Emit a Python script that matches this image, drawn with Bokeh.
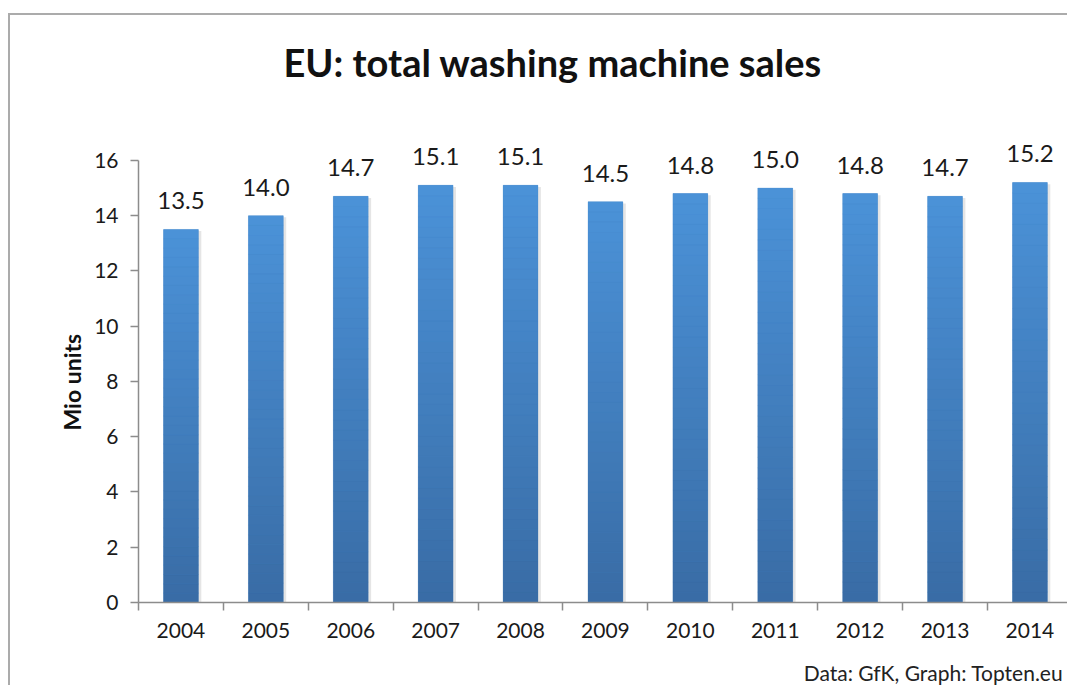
from bokeh.plotting import figure
from bokeh.models import ColumnDataSource, Range1d, FixedTicker, LabelSet, Title, LinearAxis
from bokeh.embed import file_html
from bokeh.resources import INLINE
from bokeh.core.properties import value

# ---- data ----
years = ["2004", "2005", "2006", "2007", "2008", "2009", "2010", "2011", "2012", "2013", "2014"]
sales = [13.5, 14.0, 14.7, 15.1, 15.1, 14.5, 14.8, 15.0, 14.8, 14.7, 15.2]
y_ticks = [0, 2, 4, 6, 8, 10, 12, 14, 16]
title_text = "EU: total washing machine sales"
y_label_text = "Mio units"
note_text = "Data: GfK, Graph: Topten.eu"

FONT = "Lato"
n = len(years)
xc = [i + 0.5 for i in range(n)]
BAR_W = 0.41

p = figure(width=1059, height=672, output_backend="svg", toolbar_location=None,
           x_range=Range1d(0, 10.966), y_range=Range1d(0, 18.167),
           min_border_left=128, min_border_right=0, min_border_top=85, min_border_bottom=84)
p.styles = {"margin-top": "13px", "margin-left": "8px",
            "border-top": "2px solid #ababab", "border-left": "2px solid #ababab"}
p.outline_line_color = None
p.xgrid.visible = False
p.ygrid.visible = False
p.background_fill_color = "white"
p.border_fill_color = "white"
p.title.visible = False

# shadow
p.vbar(x=[x + 0.035 for x in xc], top=[v - 0.06 for v in sales], bottom=0, width=BAR_W,
       fill_color="#000000", fill_alpha=0.10, line_color=None)

# base bar
p.vbar(x=xc, top=sales, bottom=0, width=BAR_W, fill_color="#4380c0", line_color=None)

# gradient bands (per bar, dark bottom to light top)
NB = 40
top_rgb = (0x4b, 0x92, 0xd8)
bot_rgb = (0x39, 0x6c, 0xa5)
bx, bb, bt, bc = [], [], [], []
for x, v in zip(xc, sales):
    for i in range(NB):
        f = (i + 0.5) / NB
        rgb = [round(bot_rgb[k] + (top_rgb[k] - bot_rgb[k]) * f) for k in range(3)]
        bx.append(x)
        bb.append(v * i / NB)
        bt.append(v * (i + 1) / NB)
        bc.append("#%02x%02x%02x" % tuple(rgb))
p.vbar(x="x", bottom="b", top="t", width=BAR_W, fill_color="c", line_color="c", line_width=0.3,
       source=ColumnDataSource(dict(x=bx, b=bb, t=bt, c=bc)))

# value labels
lab_src = ColumnDataSource(dict(x=xc, y=sales, t=["%.1f" % v for v in sales]))
p.add_layout(LabelSet(x="x", y="y", text="t", source=lab_src, y_offset=20,
                      text_align="center", text_baseline="bottom",
                      text_font=value(FONT), text_font_size=value("24px"),
                      text_color=value("#1a1a1a")))

# axes
AX = "#8c8c8c"
xa = p.xaxis[0]
xa.ticker = FixedTicker(ticks=xc, minor_ticks=list(range(n + 1)))
xa.major_label_overrides = {x: y for x, y in zip(xc, years)}
xa.major_tick_line_color = None
xa.minor_tick_line_color = AX
xa.minor_tick_line_width = 1.5
xa.minor_tick_in = 0
xa.minor_tick_out = 8
xa.axis_line_color = AX
xa.axis_line_width = 1.5
xa.bounds = (0, n)
xa.major_label_text_font = FONT
xa.major_label_text_font_size = "21px"
xa.major_label_text_color = "#1a1a1a"
xa.major_label_standoff = 12

ya = p.yaxis[0]
ya.ticker = FixedTicker(ticks=y_ticks, minor_ticks=[])
ya.bounds = (0, 16)
ya.axis_line_color = AX
ya.axis_line_width = 1.5
ya.major_tick_line_color = AX
ya.major_tick_line_width = 1.5
ya.major_tick_in = 0
ya.major_tick_out = 8
ya.minor_tick_line_color = None
ya.major_label_text_font = FONT
ya.major_label_text_font_size = "21px"
ya.major_label_text_color = "#1a1a1a"
ya.major_label_standoff = 12

# source note: a bare second bottom axis carrying one label
NOTE_X = 9.364
note_axis = LinearAxis(ticker=FixedTicker(ticks=[NOTE_X], minor_ticks=[]),
                       major_label_overrides={NOTE_X: note_text},
                       axis_line_color=None, major_tick_line_color=None,
                       minor_tick_line_color=None, major_label_standoff=13,
                       major_label_text_font=FONT, major_label_text_font_size="21px",
                       major_label_text_color="#222222")
p.add_layout(note_axis, "below")

# title and y-axis label as side-panel titles
p.add_layout(Title(text=title_text, align="left", offset=145, standoff=32,
                   text_font=FONT, text_font_style="bold", text_font_size="38px",
                   text_color="#111111"), "above")
p.add_layout(Title(text=y_label_text, align="left", offset=172, standoff=12,
                   text_font=FONT, text_font_style="bold", text_font_size="23px",
                   text_color="#111111"), "left")

open("out.html", "w").write(file_html(p, INLINE))
